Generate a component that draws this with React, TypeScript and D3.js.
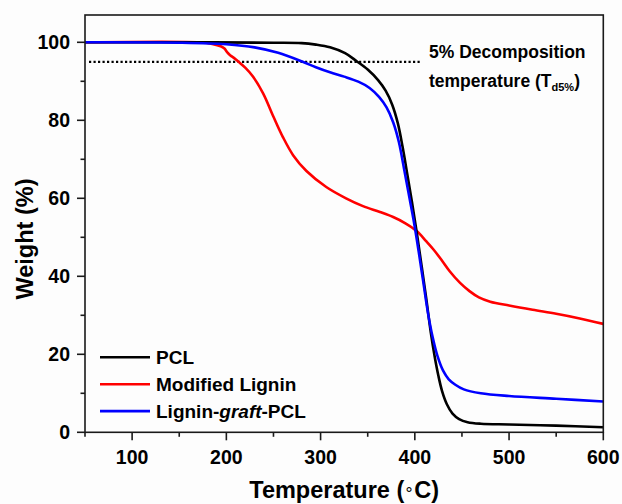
import React from "react";
import * as d3 from "d3";

// ---- Data ----
const pclT = [50, 150, 250, 280, 295, 310, 326, 338, 350, 361, 369, 376, 382, 387, 392, 397, 402, 407, 412, 417, 421, 425, 429, 434, 440, 447, 456, 470, 500, 550, 600];
const pclW = [100, 100, 99.9, 99.8, 99.4, 98.7, 97.2, 95.2, 93.0, 90.3, 87.6, 84.0, 79.2, 73.2, 66.2, 59, 51.3, 43, 34.5, 25.5, 19.5, 14.5, 10.5, 7.2, 4.8, 3.4, 2.6, 2.2, 2, 1.7, 1.3];

const ligT = [50, 172, 185, 194, 198, 201, 204, 208, 213, 220, 228, 239, 250, 260, 271, 285, 306, 327, 345, 363, 377, 390, 402, 412, 420, 428, 437, 448, 458, 468, 480, 500, 525, 550, 575, 600];
const ligW = [100, 100, 99.6, 99.0, 98.4, 97.4, 96.7, 96.0, 95.0, 93.5, 91.3, 86.9, 80.9, 75.7, 71, 67, 62.9, 60, 58, 56.5, 55.2, 53.6, 51.6, 49, 46.8, 44.3, 41.3, 38.3, 36.2, 34.6, 33.5, 32.5, 31.4, 30.4, 29.2, 27.8];

const graftT = [50, 150, 200, 230, 255, 281, 295, 310, 325, 340, 352, 362, 370, 377, 383, 389, 394, 399, 404, 409, 414, 419, 424, 430, 436, 443, 452, 470, 500, 550, 600];
const graftW = [100, 99.9, 99.5, 98.7, 97.3, 95.0, 93.6, 92.3, 91.2, 89.9, 88.3, 86.0, 83.3, 79.5, 74.5, 67, 60.5, 54, 46.5, 38.5, 30.5, 24.3, 19.6, 15.8, 13.6, 12.2, 11, 10, 9.3, 8.6, 7.9];

const seriesNames = ["PCL", "Modified Lignin", "Lignin-graft-PCL"];
const seriesColors = ["#000000", "#ff0000", "#0000ff"];

const xMajorTicks = [100, 200, 300, 400, 500, 600];
const xMinorTicks = [50, 150, 250, 350, 450, 550];
const yMajorTicks = [0, 20, 40, 60, 80, 100];
const yMinorTicks = [10, 30, 50, 70, 90];

const xDomain = [50, 600];
const yDomain = [0, 107];
const decompLevel = 95;
const decompEndT = 407;

export default function App() {
  const W = 622, H = 504;
  const left = 85, right = 603.3, top = 15, bottom = 432.3;
  const x = d3.scaleLinear().domain(xDomain).range([left, right]);
  const y = d3.scaleLinear().domain(yDomain).range([bottom, top]);

  const line = d3
    .line<[number, number]>()
    .x((d) => x(d[0]))
    .y((d) => y(d[1]))
    .curve(d3.curveCatmullRom.alpha(0.5));

  const series = [
    { name: seriesNames[0], color: seriesColors[0], pts: pclT.map((t, i) => [t, pclW[i]] as [number, number]) },
    { name: seriesNames[1], color: seriesColors[1], pts: ligT.map((t, i) => [t, ligW[i]] as [number, number]) },
    { name: seriesNames[2], color: seriesColors[2], pts: graftT.map((t, i) => [t, graftW[i]] as [number, number]) },
  ];
  // draw order: red, black, blue (blue on top)
  const drawOrder = [1, 0, 2];

  const font = "'Liberation Sans', Arial, Helvetica, sans-serif";
  const axisColor = "#1a1a1a";

  return (
    <svg
      width={W}
      height={H}
      style={{ position: "absolute", left: 0, top: 0, background: "#fdfdfd" }}
      fontFamily={font}
      fontWeight="bold"
    >
      <rect x={0} y={0} width={W} height={H} fill="#fdfdfd" />
      {/* dotted 5% line */}
      <line
        x1={x(xDomain[0]) + 4}
        x2={x(decompEndT)}
        y1={y(decompLevel)}
        y2={y(decompLevel)}
        stroke="#000"
        strokeWidth={2.2}
        strokeDasharray="2.2,2.3"
      />
      {/* curves */}
      <g clipPath="url(#clip)">
        <clipPath id="clip">
          <rect x={left} y={top} width={right - left} height={bottom - top} />
        </clipPath>
        {drawOrder.map((i) => (
          <path
            key={series[i].name}
            d={line(series[i].pts) || ""}
            fill="none"
            stroke={series[i].color}
            strokeWidth={2.6}
            strokeLinejoin="round"
          />
        ))}
      </g>
      {/* frame */}
      <rect
        x={left}
        y={top}
        width={right - left}
        height={bottom - top}
        fill="none"
        stroke={axisColor}
        strokeWidth={1.6}
      />
      {/* x ticks */}
      {xMajorTicks.map((t) => (
        <g key={"xm" + t}>
          <line x1={x(t)} x2={x(t)} y1={bottom} y2={bottom + 8} stroke={axisColor} strokeWidth={1.6} />
          <text x={x(t)} y={463.5} textAnchor="middle" fontSize={19.5} fill="#000">
            {t}
          </text>
        </g>
      ))}
      {xMinorTicks.map((t) => (
        <line key={"xn" + t} x1={x(t)} x2={x(t)} y1={bottom} y2={bottom + 4.5} stroke={axisColor} strokeWidth={1.6} />
      ))}
      {/* y ticks */}
      {yMajorTicks.map((t) => (
        <g key={"ym" + t}>
          <line x1={left - 8} x2={left} y1={y(t)} y2={y(t)} stroke={axisColor} strokeWidth={1.6} />
          <text x={70} y={y(t)} dy="0.36em" textAnchor="end" fontSize={19.5} fill="#000">
            {t}
          </text>
        </g>
      ))}
      {yMinorTicks.map((t) => (
        <line key={"yn" + t} x1={left - 4.5} x2={left} y1={y(t)} y2={y(t)} stroke={axisColor} strokeWidth={1.6} />
      ))}
      {/* axis titles */}
      <text x={(left + right) / 2} y={498} textAnchor="middle" fontSize={23.5} fill="#000">
        Temperature (
        <tspan fontWeight="normal" fontSize={16} dy={-3}>{"\u2218"}</tspan>
        <tspan dy={3}>C)</tspan>
      </text>
      <text
        transform={`translate(33, 239) rotate(-90)`}
        textAnchor="middle"
        fontSize={23.5}
        fill="#000"
      >
        Weight (%)
      </text>
      {/* annotation */}
      <text x={429} y={58} fontSize={17.5} fill="#000">
        5% Decomposition
      </text>
      <text x={429} y={87} fontSize={17.5} fill="#000">
        temperature (T
        <tspan fontSize={11} dy={4}>d5%</tspan>
        <tspan dy={-4}>)</tspan>
      </text>
      {/* legend */}
      {series.map((s, i) => {
        const ly = 357.3 + i * 26.9;
        return (
          <g key={"lg" + s.name}>
            <line x1={100} x2={150} y1={ly} y2={ly} stroke={s.color} strokeWidth={2.6} />
            <text x={156} y={ly} dy="0.36em" fontSize={19} fill="#000">
              {i === 2 ? (
                <>
                  Lignin-<tspan fontStyle="italic">graft</tspan>-PCL
                </>
              ) : (
                s.name
              )}
            </text>
          </g>
        );
      })}
    </svg>
  );
}
